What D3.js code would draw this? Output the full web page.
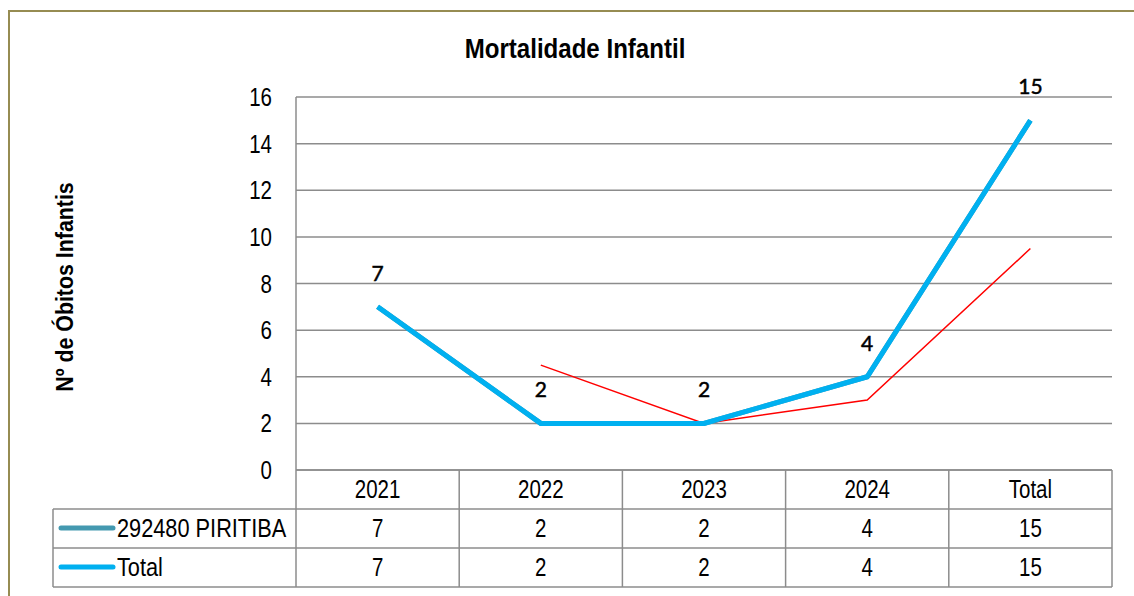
<!DOCTYPE html>
<html><head><meta charset="utf-8">
<script src="https://cdn.jsdelivr.net/npm/d3@7"></script>
<style>
html,body{margin:0;padding:0;background:#fff;}
svg{display:block;}
</style></head>
<body>
<svg id="chart" width="1134" height="596"></svg>
<script>
const categories = ["2021","2022","2023","2024","Total"];
const piritiba = [7,2,2,4,15];
const total = [7,2,2,4,15];
const trend = [null,4.5,2,3,9.5];
const seriesNames = ["292480 PIRITIBA","Total"];
const yTicks = [0,2,4,6,8,10,12,14,16];

const narrow = "'Liberation Sans Narrow','Arial Narrow','Liberation Sans',Arial,sans-serif";
const svg = d3.select("#chart");
const L = 296, R = 1112, T = 97, B = 470;
const x = d3.scaleBand().domain(categories).range([L, R]).padding(0);
const y = d3.scaleLinear().domain([0,16]).range([B, T]);
const cx = c => x(c) + x.bandwidth()/2;

// condensed text helper
function ntext(parent, px, py, str, size, anchor, sx, weight, rot) {
  const g = parent.append("g").attr("transform", `translate(${px},${py})` + (rot ? ` rotate(${rot})` : "") + ` scale(${sx},1)`);
  g.append("text").attr("x",0).attr("y",0).attr("text-anchor",anchor)
    .attr("font-family",narrow).attr("font-size",size).attr("font-weight",weight||"normal")
    .attr("fill","#000").text(str);
  return g;
}

// outer border
svg.append("path").attr("d", "M9,600 V11 H1140").attr("fill","none").attr("stroke","#968c52").attr("stroke-width",2);

// title
ntext(svg, 575, 58, "Mortalidade Infantil", 28, "middle", 0.86, "bold");
// y axis title
ntext(svg, 73, 287, "Nº de Óbitos Infantis", 24, "middle", 0.89, "bold", -90);

// gridlines
svg.append("g").selectAll("line").data(yTicks).join("line")
  .attr("x1",L).attr("x2",R).attr("y1",d=>y(d)).attr("y2",d=>y(d))
  .attr("stroke","#8c8c8c").attr("stroke-width",1.5);
svg.append("line").attr("x1",L).attr("x2",L).attr("y1",T).attr("y2",B).attr("stroke","#8c8c8c").attr("stroke-width",1.5);

// tick labels
const tickG = svg.append("g");
yTicks.forEach(t => ntext(tickG, 272, y(t)+9, String(t), 25, "end", 0.82));

// table
const rows = [B, 509, 548, 587];
const tableLeft = 53;
const tg = svg.append("g").attr("stroke","#8c8c8c").attr("stroke-width",1.5);
tg.append("line").attr("x1",L).attr("x2",R).attr("y1",B).attr("y2",B);
[509,548,587].forEach(r=>tg.append("line").attr("x1",tableLeft).attr("x2",R).attr("y1",r).attr("y2",r));
categories.forEach(c=>tg.append("line").attr("x1",x(c)).attr("x2",x(c)).attr("y1",B).attr("y2",587));
tg.append("line").attr("x1",R).attr("x2",R).attr("y1",B).attr("y2",587);
tg.append("line").attr("x1",tableLeft).attr("x2",tableLeft).attr("y1",509).attr("y2",587);

// category labels
const catG = svg.append("g");
categories.forEach(c => ntext(catG, cx(c), 498, c, 25, "middle", 0.82));

const seriesData = [piritiba, total];
const colors = ["#4499b0","#00b0f0"];
seriesData.forEach((s,i)=>{
  const ry = rows[i+1] + 28;
  svg.append("line").attr("x1",61).attr("x2",113).attr("y1",ry-9).attr("y2",ry-9)
    .attr("stroke",colors[i]).attr("stroke-width",5).attr("stroke-linecap","round");
  ntext(svg, 117, ry, seriesNames[i], 25, "start", 0.87);
  const vg = svg.append("g");
  s.forEach((d,j) => ntext(vg, cx(categories[j]), ry, String(d), 25, "middle", 0.82));
});

// lines
const line = d3.line().defined(d=>d[1]!=null).x(d=>cx(d[0])).y(d=>y(d[1]));
svg.append("path").datum(categories.map((c,j)=>[c,piritiba[j]])).attr("d",line)
  .attr("fill","none").attr("stroke",colors[0]).attr("stroke-width",5);
svg.append("path").datum(categories.map((c,j)=>[c,trend[j]])).attr("d",line)
  .attr("fill","none").attr("stroke","#ff0000").attr("stroke-width",1.5);
svg.append("path").datum(categories.map((c,j)=>[c,total[j]])).attr("d",line)
  .attr("fill","none").attr("stroke",colors[1]).attr("stroke-width",5);

// data labels
svg.append("g").selectAll("text").data(total).join("text")
  .attr("x",(d,j)=>cx(categories[j])).attr("y",d=>y(d)-26).attr("text-anchor","middle")
  .attr("font-family","Lato,'Open Sans',sans-serif").attr("font-size",21)
  .attr("fill","#000").attr("stroke","#000").attr("stroke-width",0.5).text(d=>d);
</script>
</body></html>
